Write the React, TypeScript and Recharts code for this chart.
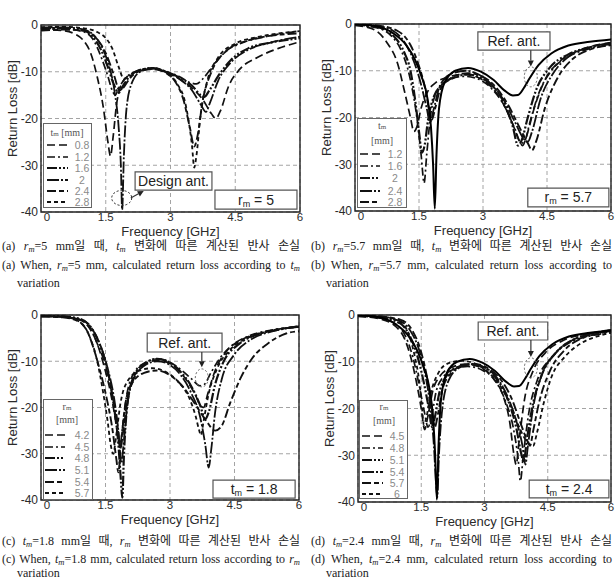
import React from 'react';
import {
  LineChart,
  Line,
  XAxis,
  YAxis,
  CartesianGrid,
  ReferenceArea,
  ReferenceDot,
  ReferenceLine,
  Legend,
} from 'recharts';

const SANS = '"Liberation Sans", Arial, Helvetica, sans-serif';
const SERIF = '"Liberation Serif", "Times New Roman", serif';
const CAPTION_FONT = '"Liberation Serif", "Noto Sans CJK KR", serif';

const FREQ_TICKS = [0, 1.5, 3, 4.5, 6];
const LOSS_TICKS = [-40, -30, -20, -10, 0];

type Pt = [number, number];

// ---------- (a) r_m = 5 mm, t_m sweep ----------
const A_LABELS = ['0.8', '1.2', '1.6', '2', '2.4', '2.8'];
const A_TM08: Pt[] = [[0,-1],[0.5,-1.2],[0.8,-2],[1.0,-3.5],[1.15,-6],[1.3,-11],[1.45,-18],[1.55,-25],[1.61,-28],[1.67,-24],[1.75,-17],[1.85,-13],[2.0,-11],[2.3,-9.8],[2.6,-9.5],[2.9,-10.2],[3.2,-11.5],[3.5,-13.5],[3.75,-16],[3.95,-19],[4.05,-20],[4.15,-18.5],[4.35,-13],[4.6,-9.5],[5.0,-7],[5.5,-5],[6,-3.6]];
const A_TM12: Pt[] = [[0,-1],[0.5,-0.8],[1.0,-1.5],[1.2,-3],[1.4,-7],[1.55,-11],[1.65,-14],[1.72,-15],[1.8,-13.5],[2.0,-11],[2.3,-9.7],[2.6,-9.3],[2.9,-10],[3.2,-11],[3.45,-12.3],[3.6,-12.6],[3.75,-11.5],[4.0,-8.5],[4.3,-5.5],[4.7,-3.7],[5.2,-2.5],[6,-1.3]];
const A_TM16: Pt[] = [[0,-0.8],[0.5,-0.6],[1.0,-1.2],[1.2,-2.5],[1.4,-5.5],[1.55,-9],[1.7,-13],[1.8,-14.5],[1.9,-13],[2.05,-11],[2.3,-9.6],[2.6,-9.2],[2.9,-10],[3.2,-11.2],[3.5,-13],[3.7,-15],[3.78,-15.4],[3.9,-14],[4.1,-11],[4.4,-7.5],[4.8,-5],[5.3,-3.8],[6,-2.8]];
const A_TM20: Pt[] = [[0,-0.5],[0.5,-0.5],[1.0,-1],[1.2,-2],[1.4,-4.5],[1.55,-8],[1.7,-14],[1.8,-22],[1.85,-30],[1.88,-39.5],[1.92,-28],[1.98,-18],[2.1,-12.5],[2.3,-10],[2.6,-9.3],[2.9,-10],[3.2,-11.5],[3.5,-14],[3.7,-17],[3.82,-18.6],[3.92,-16.5],[4.1,-12],[4.4,-8],[4.8,-5.3],[5.3,-3.8],[6,-2.5]];
const A_TM24: Pt[] = [[0,-1.2],[0.5,-1],[1.0,-1.2],[1.3,-3],[1.5,-6],[1.7,-11],[1.82,-14],[1.9,-13.5],[2.05,-11.5],[2.3,-9.8],[2.6,-9.3],[2.9,-10.3],[3.1,-12],[3.3,-16],[3.45,-22],[3.55,-26],[3.62,-24],[3.75,-16],[3.95,-10],[4.3,-5.5],[4.8,-3.3],[5.4,-2.2],[6,-1.8]];
const A_TM28: Pt[] = [[0,-0.5],[0.5,-0.4],[1.0,-0.7],[1.3,-1.5],[1.5,-2.8],[1.65,-5],[1.8,-9],[1.92,-11.5],[2.05,-11],[2.3,-9.6],[2.6,-9.2],[2.9,-10.2],[3.15,-12.5],[3.35,-17],[3.5,-26],[3.55,-30.5],[3.6,-28],[3.7,-19],[3.85,-12],[4.1,-7],[4.5,-4],[5.0,-2.6],[5.5,-1.8],[6,-1.3]];

// ---------- (b) r_m = 5.7 mm, t_m sweep ----------
const B_LABELS = ['1.2', '1.6', '2', '2.4', '2.8'];
const B_TM12: Pt[] = [[0,-0.3],[0.4,-1],[0.75,-4],[1.0,-8.5],[1.15,-14],[1.3,-20],[1.38,-23],[1.45,-22],[1.55,-18],[1.7,-14.5],[1.9,-12.5],[2.2,-11.3],[2.55,-10.8],[2.9,-11.5],[3.2,-13.5],[3.5,-17.5],[3.7,-21.5],[3.85,-25],[3.93,-26],[4.02,-24],[4.2,-18],[4.45,-12],[4.8,-8],[5.3,-5.5],[6,-4]];
const B_TM16: Pt[] = [[0,-0.2],[0.5,-0.8],[0.9,-3],[1.1,-6],[1.3,-12],[1.45,-20],[1.55,-28],[1.62,-34],[1.68,-28],[1.78,-19],[1.95,-14],[2.2,-12],[2.55,-11.2],[2.9,-11.8],[3.2,-13.8],[3.5,-17.5],[3.75,-22.5],[3.9,-25.5],[3.98,-25],[4.1,-21],[4.3,-15],[4.6,-10],[5.0,-7],[5.5,-5.3],[6,-4.5]];
const B_TM20: Pt[] = [[0,-0.2],[0.5,-0.6],[0.9,-2.5],[1.15,-6],[1.3,-10],[1.42,-17],[1.5,-23],[1.57,-27.5],[1.63,-26],[1.72,-20],[1.85,-15.5],[2.05,-13],[2.35,-11.3],[2.65,-10.8],[2.95,-11.5],[3.25,-13.5],[3.5,-17],[3.7,-22],[3.82,-26],[3.9,-25],[4.05,-20],[4.25,-14],[4.55,-9.5],[5.0,-6.5],[5.5,-5],[6,-4.3]];
const B_TM24: Pt[] = [[0,-0.1],[0.5,-0.4],[0.9,-1.5],[1.2,-4.5],[1.4,-8.5],[1.55,-13],[1.68,-18],[1.76,-21],[1.85,-18],[2.0,-13],[2.3,-10.5],[2.6,-10],[2.9,-10.8],[3.2,-13],[3.5,-16.5],[3.75,-21],[3.95,-24.5],[4.05,-25.2],[4.15,-23],[4.35,-16],[4.65,-10.5],[5.0,-7],[5.5,-5],[6,-4]];
const B_TM28: Pt[] = [[0,-0.1],[0.5,-0.3],[1.0,-1.5],[1.3,-4.5],[1.5,-9],[1.65,-14],[1.75,-19],[1.8,-20.5],[1.88,-18],[2.0,-14],[2.3,-11.3],[2.65,-10.5],[3.0,-11.3],[3.3,-13.5],[3.6,-17.5],[3.85,-22],[4.05,-25.5],[4.15,-27],[4.25,-25],[4.45,-18],[4.75,-11.5],[5.1,-7.5],[5.5,-5.5],[6,-4.5]];

// Reference antenna response, shown in (b) and (d)
const REF_ANT: Pt[] = [[0,0],[0.5,-0.5],[0.9,-2],[1.2,-4.5],[1.4,-7.5],[1.55,-11],[1.7,-16],[1.78,-22],[1.83,-30],[1.87,-39.5],[1.91,-28],[1.97,-18],[2.1,-12.5],[2.35,-10],[2.65,-9.4],[2.95,-10.2],[3.25,-12],[3.5,-14.2],[3.7,-15.3],[3.82,-15.2],[3.95,-13.8],[4.1,-11.5],[4.3,-8.8],[4.6,-6.3],[5.0,-4.6],[5.5,-3.8],[6,-3.3]];

// ---------- (c) t_m = 1.8 mm, r_m sweep ----------
const C_LABELS = ['4.2', '4.5', '4.8', '5.1', '5.4', '5.7'];
const C_RM42: Pt[] = [[0,-0.3],[0.5,-0.4],[0.9,-1],[1.1,-2.5],[1.3,-6],[1.45,-10.5],[1.6,-16],[1.72,-22],[1.8,-27],[1.85,-29],[1.9,-26],[2.0,-19],[2.15,-13.5],[2.4,-10.8],[2.7,-9.8],[3.0,-10.5],[3.25,-12.5],[3.45,-15],[3.6,-17.5],[3.7,-19.5],[3.78,-20],[3.88,-17],[4.05,-12],[4.3,-8],[4.7,-5.2],[5.2,-3.7],[6,-2.5]];
const C_RM45: Pt[] = [[0,-0.2],[0.5,-0.3],[0.9,-1],[1.15,-3],[1.3,-6],[1.5,-11],[1.65,-17],[1.78,-24],[1.84,-28],[1.9,-24],[2.0,-17],[2.2,-12],[2.45,-10.2],[2.7,-9.5],[3.0,-10.2],[3.25,-11.8],[3.5,-13.8],[3.7,-15.3],[3.8,-15],[3.95,-12.5],[4.15,-9.5],[4.45,-6.5],[4.9,-4.3],[5.4,-3.2],[6,-2.6]];
const C_RM48: Pt[] = [[0,-0.2],[0.5,-0.3],[0.9,-0.8],[1.15,-2.5],[1.35,-6],[1.55,-12],[1.7,-20],[1.8,-28],[1.86,-36],[1.89,-39.5],[1.93,-30],[2.0,-20],[2.15,-13.5],[2.4,-10.5],[2.7,-9.5],[3.0,-10.3],[3.25,-12.3],[3.5,-15.5],[3.7,-19.5],[3.82,-22.5],[3.9,-21],[4.05,-15],[4.25,-10],[4.6,-6.3],[5.0,-4.3],[5.5,-3.2],[6,-2.5]];
const C_RM51: Pt[] = [[0,-0.3],[0.5,-0.4],[1.0,-1.3],[1.2,-3.2],[1.4,-7],[1.55,-11.5],[1.7,-18],[1.8,-25],[1.87,-32],[1.92,-28],[2.0,-20],[2.15,-14],[2.4,-11],[2.7,-10],[3.0,-10.8],[3.25,-13],[3.5,-17],[3.7,-22],[3.82,-28],[3.9,-33],[3.96,-29],[4.05,-21],[4.2,-14],[4.5,-8.5],[4.9,-5.2],[5.4,-3.5],[6,-2.4]];
const C_RM54: Pt[] = [[0,-0.3],[0.5,-0.5],[0.9,-1.5],[1.1,-4],[1.25,-8],[1.4,-13],[1.55,-19],[1.65,-24],[1.75,-31],[1.8,-34],[1.86,-28],[1.95,-20],[2.1,-15],[2.4,-12.5],[2.7,-12],[3.0,-13],[3.3,-15.5],[3.6,-19.5],[3.85,-23],[4.05,-25],[4.2,-24],[4.4,-19],[4.65,-13.5],[4.9,-9.5],[5.3,-6],[5.7,-4],[6,-3.5]];
const C_RM57: Pt[] = [[0,-0.2],[0.6,-0.5],[0.9,-1.5],[1.1,-4],[1.3,-9.7],[1.45,-17],[1.55,-23],[1.62,-28],[1.68,-30],[1.75,-26],[1.85,-19],[2.0,-14.5],[2.3,-12],[2.6,-11.5],[2.9,-12.3],[3.2,-14.5],[3.45,-18],[3.6,-22],[3.68,-25],[3.72,-26],[3.78,-23],[3.9,-17],[4.1,-11.5],[4.4,-7.5],[4.8,-5],[5.3,-3.5],[6,-2.5]];

// ---------- (d) t_m = 2.4 mm, r_m sweep ----------
const D_LABELS = ['4.5', '4.8', '5.1', '5.4', '5.7', '6'];
const D_RM45: Pt[] = [[0,-0.3],[0.5,-0.8],[0.9,-2.5],[1.1,-5],[1.25,-9],[1.4,-15],[1.5,-20],[1.58,-24.5],[1.65,-22],[1.78,-16],[1.95,-13],[2.2,-11.3],[2.55,-10.5],[2.9,-11.2],[3.2,-13.5],[3.45,-17.5],[3.6,-23],[3.7,-30],[3.75,-32],[3.82,-27],[3.95,-18],[4.15,-12],[4.45,-8],[4.9,-5.3],[5.5,-4],[6,-3.5]];
const D_RM48: Pt[] = [[0,-0.2],[0.5,-0.6],[0.9,-2],[1.15,-5],[1.3,-9],[1.45,-15],[1.58,-21],[1.66,-24],[1.74,-22],[1.85,-16.5],[2.0,-13.5],[2.3,-11.5],[2.6,-11],[2.95,-11.8],[3.25,-14],[3.5,-18.5],[3.68,-24],[3.8,-31],[3.85,-35.5],[3.92,-30],[4.05,-21],[4.25,-14],[4.6,-9],[5.0,-6],[5.5,-4.5],[6,-3.8]];
const D_RM51: Pt[] = [[0,-0.2],[0.5,-0.5],[1.0,-1.8],[1.2,-4],[1.4,-8.5],[1.55,-14],[1.68,-20],[1.76,-24],[1.82,-22],[1.92,-17],[2.1,-13],[2.4,-11],[2.7,-10.5],[3.0,-11.3],[3.3,-13.8],[3.55,-18],[3.75,-24],[3.88,-30],[3.93,-31.5],[4.0,-27],[4.15,-19],[4.35,-13],[4.7,-8],[5.1,-5.3],[5.6,-4],[6,-3.3]];
const D_RM54: Pt[] = [[0,-0.1],[0.5,-0.4],[1.0,-1.3],[1.25,-3.5],[1.45,-7.5],[1.6,-13],[1.72,-20],[1.8,-28],[1.85,-36],[1.88,-39],[1.92,-30],[2.0,-20],[2.15,-14],[2.4,-11.3],[2.7,-10.5],[3.0,-11.2],[3.3,-13.5],[3.55,-17.5],[3.75,-22.5],[3.9,-28],[3.97,-32],[4.03,-28],[4.15,-20],[4.35,-13],[4.7,-8],[5.1,-5.3],[5.6,-3.8],[6,-3.2]];
const D_RM57: Pt[] = [[0,-0.1],[0.5,-0.3],[1.0,-1],[1.3,-3.5],[1.5,-8],[1.65,-14],[1.75,-20],[1.82,-24],[1.9,-21],[2.0,-16],[2.2,-12.5],[2.5,-10.8],[2.8,-10.5],[3.1,-11.5],[3.4,-14],[3.65,-18],[3.85,-23],[4.02,-27],[4.08,-28],[4.15,-25],[4.3,-18.5],[4.55,-12],[4.9,-7.5],[5.3,-5],[5.7,-4],[6,-3.5]];
const D_RM60: Pt[] = [[0,-0.1],[0.6,-0.4],[1.0,-1.5],[1.2,-4],[1.35,-9],[1.45,-14],[1.52,-20],[1.56,-23.5],[1.62,-22],[1.72,-17],[1.9,-12.5],[2.15,-10.3],[2.45,-9.8],[2.75,-10.3],[3.05,-12],[3.35,-14.8],[3.6,-19],[3.8,-23.5],[4.0,-27],[4.15,-28],[4.25,-25],[4.4,-19],[4.6,-13],[4.9,-9],[5.3,-6],[5.7,-4.5],[6,-3.8]];

// line styles, one per legend slot
const DASHES = [
  { d: '8 4', w: 1.7 },
  { d: '8 3 2 3', w: 1.7 },
  { d: '10 2 2 2 2 2', w: 2.2 },
  { d: '12 2 2 2', w: 1.8 },
  { d: '9 3 5 3', w: 1.9 },
  { d: '4 3', w: 1.8 },
];

const rows = (pts: Pt[]) => pts.map(([f, db]) => ({ f, db }));

function XTick(props: any) {
  const { x, y, payload } = props;
  const shift = payload.value === 0 ? 6 : 0;
  return (
    <text x={x + shift} y={y} dy="0.72em" textAnchor="middle" fontSize={11.5} fill="#2a2a2a" fontFamily={SANS}>
      {payload.value}
    </text>
  );
}

function XTitle(props: any) {
  const vb = props.viewBox || { x: 0, y: 0, width: 0 };
  return (
    <text x={vb.x + vb.width / 2} y={vb.y + 19.5} textAnchor="middle" dominantBaseline="central" fontSize={13} fill="#2a2a2a" fontFamily={SANS}>
      Frequency [GHz]
    </text>
  );
}

function YTitle(props: any) {
  const vb = props.viewBox || { x: 0, y: 0, width: 0, height: 0 };
  const cx = vb.x + vb.width - 29;
  const cy = vb.y + vb.height / 2 - 10;
  return (
    <text x={cx} y={cy} transform={`rotate(-90 ${cx} ${cy})`} textAnchor="middle" dominantBaseline="central" fontSize={13} fill="#2a2a2a" fontFamily={SANS}>
      Return Loss [dB]
    </text>
  );
}

function ParamLabel(props: any) {
  const vb = props.viewBox || { x: 0, y: 0, width: 0, height: 0 };
  const cx = vb.x + vb.width / 2;
  const cy = vb.y + vb.height / 2 + 5;
  return (
    <text x={cx} y={cy} textAnchor="middle" fontSize={14} fill="#222" fontFamily={SANS}>
      {props.sym}
      <tspan fontSize={9} dy={2}>m</tspan>
      <tspan dy={-2}>{' = ' + props.value}</tspan>
    </text>
  );
}

function NoteLabel(props: any) {
  const vb = props.viewBox || { x: 0, y: 0, width: 0, height: 0 };
  return (
    <text x={vb.x + vb.width / 2} y={vb.y + vb.height / 2 + 5} textAnchor="middle" fontSize={14} fill="#222" fontFamily={SANS}>
      {props.text}
    </text>
  );
}

function Arrow(props: any) {
  const { x1, y1, x2, y2 } = props;
  if ([x1, y1, x2, y2].some((v) => typeof v !== 'number')) return null;
  const ang = Math.atan2(y2 - y1, x2 - x1);
  const L = 6;
  const W = 3;
  const bx = x2 - L * Math.cos(ang);
  const by = y2 - L * Math.sin(ang);
  const px = -Math.sin(ang) * W;
  const py = Math.cos(ang) * W;
  return (
    <g>
      <line x1={x1} y1={y1} x2={bx} y2={by} stroke="#333" strokeWidth={1.2} />
      <polygon points={`${x2},${y2} ${bx + px},${by + py} ${bx - px},${by - py}`} fill="#222" />
    </g>
  );
}

type Series = { label: string; rows: { f: number; db: number }[] };

type LegendSpec = {
  left: number;
  top: number;
  w: number;
  h: number;
  sym: string;
  twoLine: boolean;
  titleX: number;
  titleY: number[];
  rowY: number[];
  sampleX: [number, number];
  labelX: number;
};

function LegendBox({ spec, series }: { spec: LegendSpec; series: Series[] }) {
  return (
    <svg width={spec.w} height={spec.h} style={{ display: 'block' }}>
      <rect x={0.5} y={0.5} width={spec.w - 1} height={spec.h - 1} fill="#fff" stroke="#666" strokeWidth={1} />
      {spec.twoLine ? (
        <>
          <text x={spec.titleX} y={spec.titleY[0]} textAnchor="middle" dominantBaseline="central" fontSize={10} fill="#555" fontFamily={SERIF}>
            {spec.sym}
            <tspan fontSize={7} dy={2}>m</tspan>
          </text>
          <text x={spec.titleX} y={spec.titleY[1]} textAnchor="middle" dominantBaseline="central" fontSize={10} fill="#555" fontFamily={SERIF}>
            [mm]
          </text>
        </>
      ) : (
        <text x={spec.titleX} y={spec.titleY[0]} textAnchor="middle" dominantBaseline="central" fontSize={10} fill="#555" fontFamily={SERIF}>
          {spec.sym}
          <tspan fontSize={7} dy={2}>m</tspan>
          <tspan dy={-2}> [mm]</tspan>
        </text>
      )}
      {series.map((s, i) => (
        <g key={s.label}>
          <line
            x1={spec.sampleX[0]}
            x2={spec.sampleX[1]}
            y1={spec.rowY[i]}
            y2={spec.rowY[i]}
            stroke="#111"
            strokeWidth={DASHES[i].w}
            strokeDasharray={DASHES[i].d}
          />
          <text x={spec.labelX} y={spec.rowY[i]} textAnchor="middle" dominantBaseline="central" fontSize={10.5} fill="#8a8a8a" fontFamily={SANS}>
            {s.label}
          </text>
        </g>
      ))}
    </svg>
  );
}

type Box = { x1: number; x2: number; y1: number; y2: number };

type PanelCfg = {
  left: number;
  top: number;
  width: number;
  height: number;
  margin: { top: number; right: number; bottom: number; left: number };
  yWidth: number;
  series: Series[];
  refRows?: { f: number; db: number }[];
  legend: LegendSpec;
  note: Box & { text: string };
  ellipse: { f: number; db: number; rx: number; ry: number; stroke: string };
  arrow: [{ x: number; y: number }, { x: number; y: number }];
  param: Box & { sym: string; value: string };
};

const X_AXIS_HEIGHT = 31;

function Panel({ cfg }: { cfg: PanelCfg }) {
  const { legend } = cfg;
  return (
    <div style={{ position: 'absolute', left: cfg.left, top: cfg.top, width: cfg.width, height: cfg.height }}>
      <LineChart width={cfg.width} height={cfg.height} margin={cfg.margin}>
        <CartesianGrid stroke="#9a9a9a" strokeDasharray="4 3" strokeWidth={0.9} />
        <XAxis
          type="number"
          dataKey="f"
          domain={[0, 6]}
          ticks={FREQ_TICKS}
          interval={0}
          allowDataOverflow
          height={X_AXIS_HEIGHT}
          tickLine={false}
          axisLine={false}
          tickSize={0}
          tickMargin={1}
          tick={<XTick />}
          label={<XTitle />}
        />
        <YAxis
          type="number"
          domain={[-40, 0]}
          ticks={LOSS_TICKS}
          interval={0}
          allowDataOverflow
          width={cfg.yWidth}
          tickLine={false}
          axisLine={false}
          tickSize={0}
          tickMargin={3}
          tick={{ fontSize: 12, fill: '#2a2a2a', fontFamily: SANS }}
          label={<YTitle />}
        />
        {cfg.series.map((s, i) => (
          <Line
            key={s.label}
            data={s.rows}
            dataKey="db"
            type="monotone"
            stroke="#111"
            strokeWidth={DASHES[i].w}
            strokeDasharray={DASHES[i].d}
            dot={false}
            activeDot={false}
            isAnimationActive={false}
          />
        ))}
        {cfg.refRows && (
          <Line data={cfg.refRows} dataKey="db" type="monotone" stroke="#000" strokeWidth={2} dot={false} activeDot={false} isAnimationActive={false} />
        )}
        <ReferenceArea x1={0} x2={6} y1={-40} y2={0} fill="none" fillOpacity={0} stroke="#222" strokeWidth={1.4} ifOverflow="visible" />
        <ReferenceArea
          x1={cfg.note.x1}
          x2={cfg.note.x2}
          y1={cfg.note.y1}
          y2={cfg.note.y2}
          fill="#fff"
          fillOpacity={1}
          stroke="#555"
          strokeWidth={1.2}
          ifOverflow="visible"
          label={<NoteLabel text={cfg.note.text} />}
        />
        <ReferenceArea
          x1={cfg.param.x1}
          x2={cfg.param.x2}
          y1={cfg.param.y1}
          y2={cfg.param.y2}
          fill="#fff"
          fillOpacity={1}
          stroke="#555"
          strokeWidth={1.2}
          ifOverflow="visible"
          label={<ParamLabel sym={cfg.param.sym} value={cfg.param.value} />}
        />
        <ReferenceDot
          x={cfg.ellipse.f}
          y={cfg.ellipse.db}
          r={cfg.ellipse.rx}
          ifOverflow="visible"
          shape={(p: any) => (
            <ellipse cx={p.cx} cy={p.cy} rx={cfg.ellipse.rx} ry={cfg.ellipse.ry} fill="none" stroke={cfg.ellipse.stroke} strokeWidth={1} strokeDasharray="2 2" />
          )}
        />
        <ReferenceLine segment={cfg.arrow} ifOverflow="visible" shape={(p: any) => <Arrow {...p} />} />
        <Legend
          verticalAlign="middle"
          align="center"
          layout="horizontal"
          wrapperStyle={{ left: legend.left, top: legend.top, width: legend.w, height: legend.h }}
          content={() => <LegendBox spec={legend} series={cfg.series} />}
        />
      </LineChart>
    </div>
  );
}

const PANEL_A: PanelCfg = {
  left: 0,
  top: 0,
  width: 305,
  height: 212 + X_AXIS_HEIGHT,
  margin: { top: 25, right: 5, bottom: 0, left: 0 },
  yWidth: 41,
  series: [A_TM08, A_TM12, A_TM16, A_TM20, A_TM24, A_TM28].map((p, i) => ({ label: A_LABELS[i], rows: rows(p) })),
  legend: { left: 43, top: 123, w: 49, h: 85, sym: 't', twoLine: false, titleX: 24, titleY: [9], rowY: [22, 34, 45, 57, 68, 79], sampleX: [4, 25], labelX: 39 },
  note: { x1: 2.18, x2: 3.96, y1: -35.3, y2: -31.4, text: 'Design ant.' },
  ellipse: { f: 1.87, db: -37, rx: 10, ry: 7.5, stroke: '#222' },
  arrow: [{ x: 2.08, y: -37 }, { x: 2.38, y: -35.5 }],
  param: { x1: 4.03, x2: 5.93, y1: -39.4, y2: -35.3, sym: 'r', value: '5' },
};

const PANEL_B: PanelCfg = {
  left: 305,
  top: 0,
  width: 310,
  height: 211 + X_AXIS_HEIGHT,
  margin: { top: 24, right: 4, bottom: 0, left: 0 },
  yWidth: 50,
  series: [B_TM12, B_TM16, B_TM20, B_TM24, B_TM28].map((p, i) => ({ label: B_LABELS[i], rows: rows(p) })),
  refRows: rows(REF_ANT),
  legend: { left: 52, top: 118, w: 50, h: 90, sym: 't', twoLine: true, titleX: 25, titleY: [7, 22], rowY: [36, 48, 60, 73, 84], sampleX: [3, 23], labelX: 38 },
  note: { x1: 2.88, x2: 4.57, y1: -5.6, y2: -1.7, text: 'Ref. ant.' },
  ellipse: { f: 4.12, db: -11.3, rx: 6.5, ry: 10, stroke: '#666' },
  arrow: [{ x: 4.12, y: -5.6 }, { x: 4.12, y: -9.1 }],
  param: { x1: 4.05, x2: 5.95, y1: -39.1, y2: -35.1, sym: 'r', value: '5.7' },
};

const PANEL_C: PanelCfg = {
  left: 0,
  top: 290,
  width: 305,
  height: 210 + X_AXIS_HEIGHT,
  margin: { top: 25, right: 6, bottom: 0, left: 0 },
  yWidth: 41,
  series: [C_RM42, C_RM45, C_RM48, C_RM51, C_RM54, C_RM57].map((p, i) => ({ label: C_LABELS[i], rows: rows(p) })),
  legend: { left: 43, top: 109, w: 50, h: 101, sym: 'r', twoLine: true, titleX: 24, titleY: [7, 20], rowY: [36, 48, 59, 71, 83, 94], sampleX: [2, 22], labelX: 39 },
  note: { x1: 2.47, x2: 4.21, y1: -8.0, y2: -3.9, text: 'Ref. ant.' },
  ellipse: { f: 3.74, db: -13.6, rx: 6.5, ry: 9, stroke: '#666' },
  arrow: [{ x: 3.74, y: -8.0 }, { x: 3.74, y: -11.3 }],
  param: { x1: 4.0, x2: 5.91, y1: -39.6, y2: -35.7, sym: 't', value: '1.8' },
};

const PANEL_D: PanelCfg = {
  left: 305,
  top: 290,
  width: 310,
  height: 212 + X_AXIS_HEIGHT,
  margin: { top: 25, right: 4, bottom: 0, left: 0 },
  yWidth: 53,
  series: [D_RM45, D_RM48, D_RM51, D_RM54, D_RM57, D_RM60].map((p, i) => ({ label: D_LABELS[i], rows: rows(p) })),
  refRows: rows(REF_ANT),
  legend: { left: 54, top: 110, w: 49, h: 99, sym: 'r', twoLine: true, titleX: 25, titleY: [6, 20], rowY: [36, 48, 60, 72, 83, 94], sampleX: [3, 24], labelX: 38 },
  note: { x1: 2.85, x2: 4.5, y1: -5.35, y2: -1.5, text: 'Ref. ant.' },
  ellipse: { f: 4.1, db: -11.3, rx: 6.5, ry: 10, stroke: '#666' },
  arrow: [{ x: 4.1, y: -5.35 }, { x: 4.1, y: -9.0 }],
  param: { x1: 4.06, x2: 5.95, y1: -39.1, y2: -35.3, sym: 't', value: '2.4' },
};

function Sym({ s }: { s: string }) {
  return (
    <span style={{ fontStyle: 'italic' }}>
      {s}
      <span style={{ fontSize: 8.5, verticalAlign: -2, lineHeight: 0 }}>m</span>
    </span>
  );
}

function CapLine({ left, top, width, justify, children }: { left: number; top: number; width: number; justify?: boolean; children: React.ReactNode }) {
  return (
    <div
      style={{
        position: 'absolute',
        left,
        top,
        width,
        height: 14,
        fontFamily: CAPTION_FONT,
        fontSize: 12,
        lineHeight: '14px',
        color: '#222',
        textAlign: justify ? 'justify' : 'left',
        textAlignLast: justify ? 'justify' : 'auto',
        overflow: 'visible',
      }}
    >
      {children}
    </div>
  );
}

export default function App() {
  return (
    <div style={{ position: 'absolute', left: 0, top: 0, width: 615, height: 580, background: '#fff', overflow: 'hidden' }}>
      <Panel cfg={PANEL_A} />
      <Panel cfg={PANEL_B} />
      <Panel cfg={PANEL_C} />
      <Panel cfg={PANEL_D} />

      <CapLine left={2} top={239} width={298} justify>
        (a) <Sym s="r" />=5 mm일 때, <Sym s="t" /> 변화에 따른 계산된 반사 손실
      </CapLine>
      <CapLine left={2} top={258} width={298} justify>
        (a) When, <Sym s="r" />=5 mm, calculated return loss according to <Sym s="t" />
      </CapLine>
      <CapLine left={17} top={276} width={200}>
        variation
      </CapLine>

      <CapLine left={311} top={239} width={301} justify>
        (b) <Sym s="r" />=5.7 mm일 때, <Sym s="t" /> 변화에 따른 계산된 반사 손실
      </CapLine>
      <CapLine left={311} top={258} width={301} justify>
        (b) When, <Sym s="r" />=5.7 mm, calculated return loss according to
      </CapLine>
      <CapLine left={326} top={276} width={200}>
        variation
      </CapLine>

      <CapLine left={2} top={534} width={298} justify>
        (c) <Sym s="t" />=1.8 mm일 때, <Sym s="r" /> 변화에 따른 계산된 반사 손실
      </CapLine>
      <CapLine left={2} top={552} width={298} justify>
        (c) When, <Sym s="t" />=1.8 mm, calculated return loss according to <Sym s="r" />
      </CapLine>
      <CapLine left={17} top={566} width={200}>
        variation
      </CapLine>

      <CapLine left={311} top={534} width={301} justify>
        (d) <Sym s="t" />=2.4 mm일 때, <Sym s="r" /> 변화에 따른 계산된 반사 손실
      </CapLine>
      <CapLine left={311} top={552} width={301} justify>
        (d) When, <Sym s="t" />=2.4 mm, calculated return loss according to
      </CapLine>
      <CapLine left={326} top={566} width={200}>
        variation
      </CapLine>
    </div>
  );
}
